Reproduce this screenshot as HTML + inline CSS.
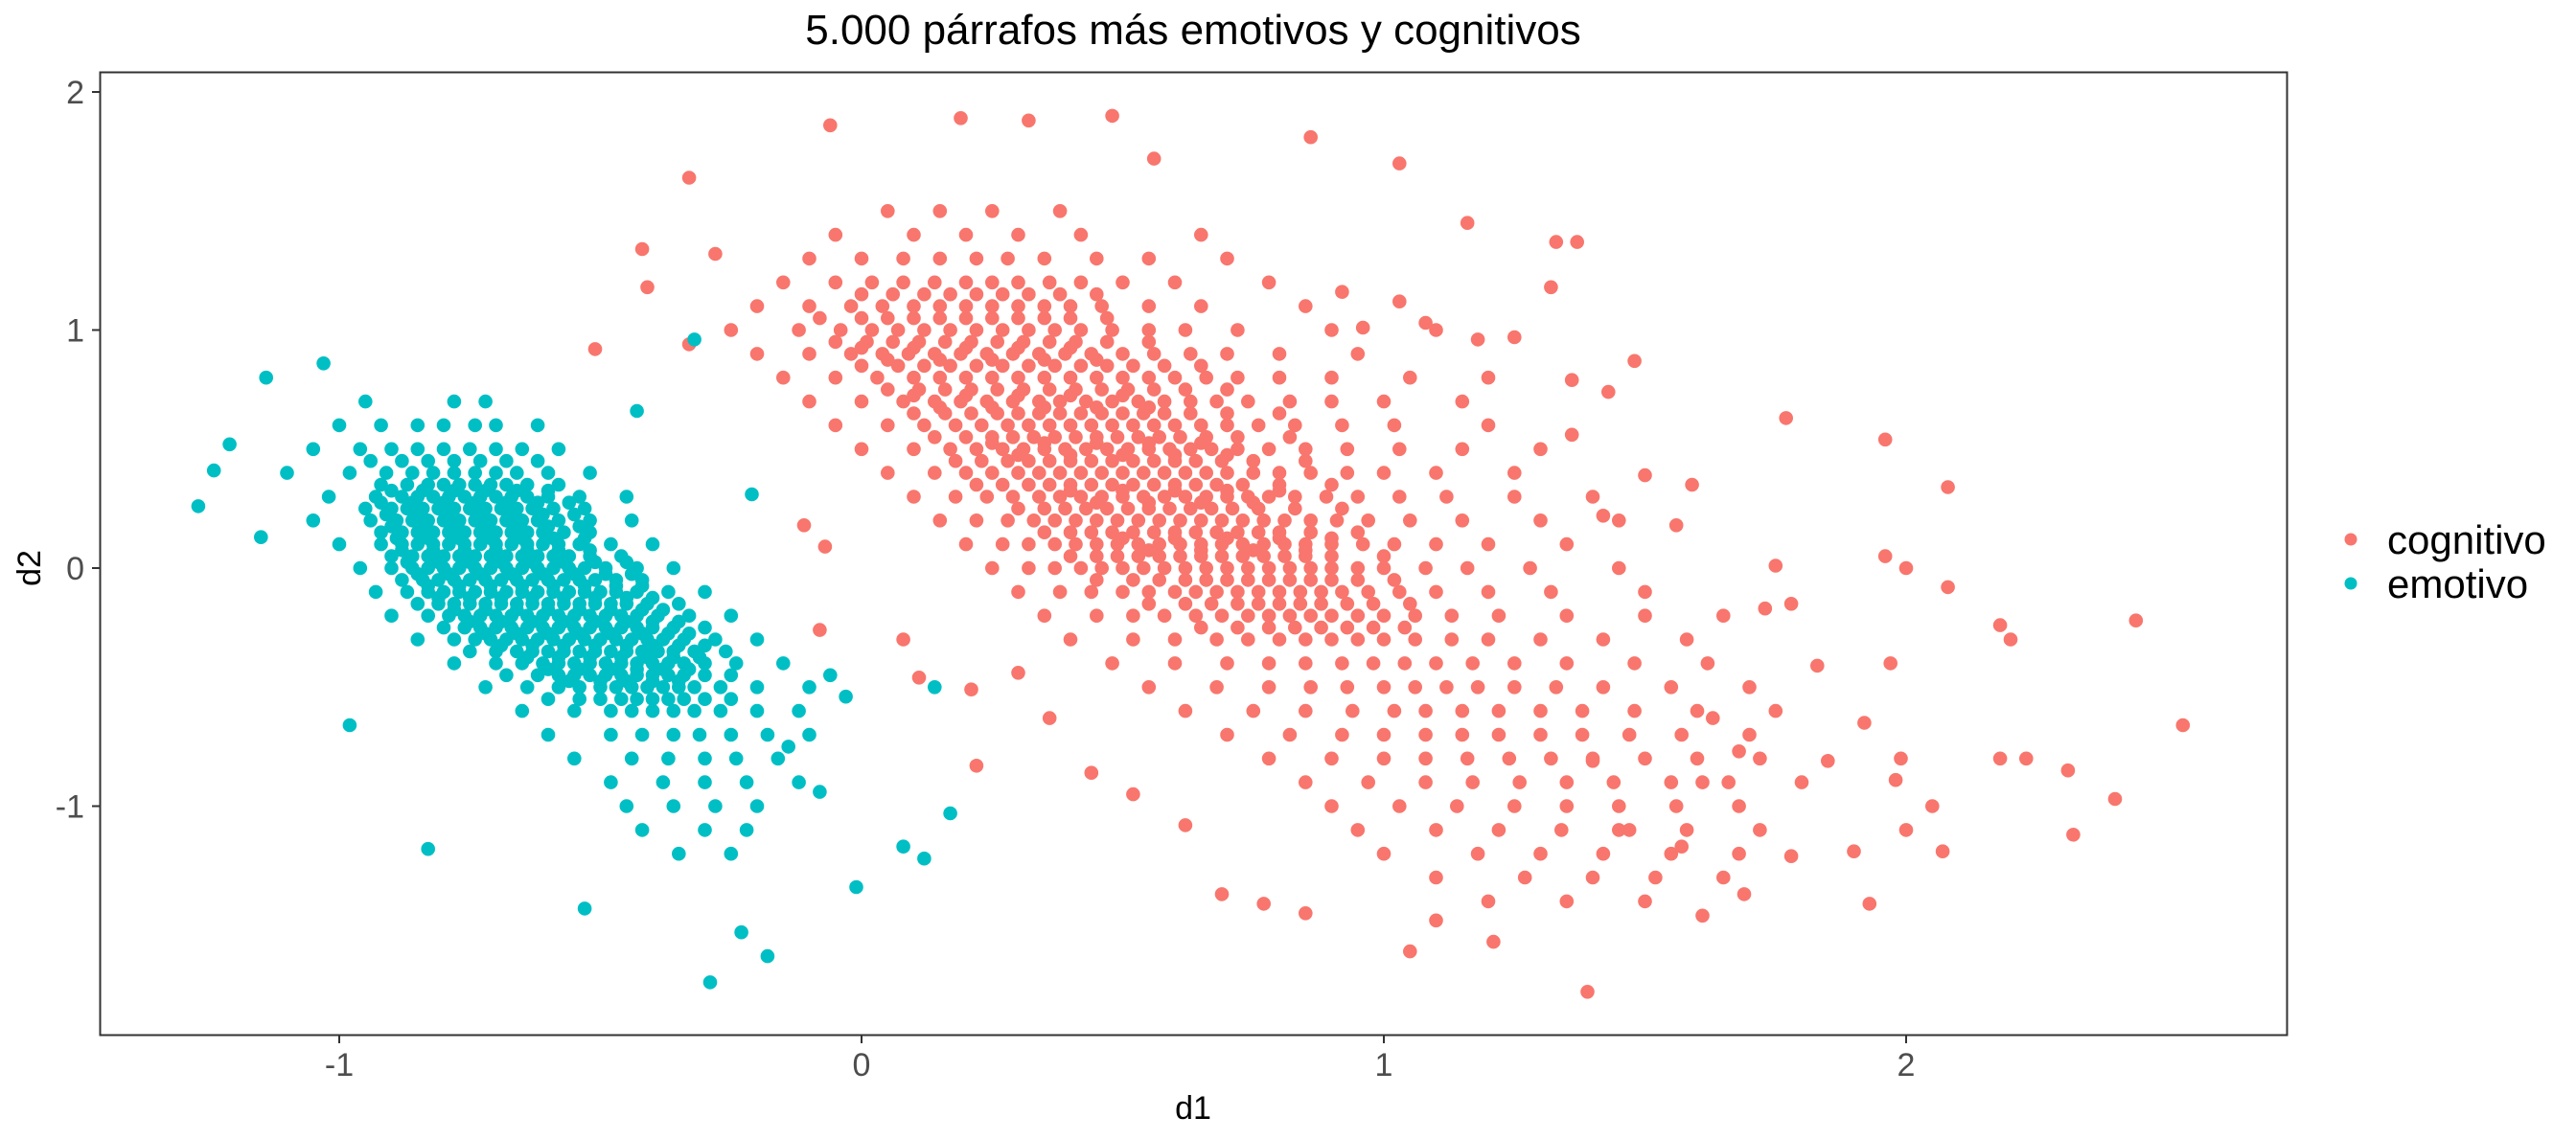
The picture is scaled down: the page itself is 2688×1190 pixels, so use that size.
<!DOCTYPE html>
<html><head><meta charset="utf-8"><style>
html,body{margin:0;padding:0;background:#fff;}
svg{display:block;font-family:"Liberation Sans",Arial,sans-serif;}
</style></head><body>
<svg id="chart" width="2688" height="1190" viewBox="0 0 2688 1190" xmlns="http://www.w3.org/2000/svg">
<rect x="0" y="0" width="2688" height="1190" fill="#fff"/>
<text x="1245" y="46" font-size="44" text-anchor="middle" fill="#000">5.000 párrafos más emotivos y cognitivos</text>
<g id="points"></g>
<rect x="104.5" y="75.5" width="2282" height="1005" fill="none" stroke="#333" stroke-width="2"/>
<g id="axes"></g>
<text x="1245" y="1168" font-size="34" text-anchor="middle" fill="#000">d1</text>
<text x="42" y="593" font-size="34" text-anchor="middle" fill="#000" transform="rotate(-90 42 593)">d2</text>
<g>
<circle cx="2453" cy="563" r="6.5" fill="#F8766D"/>
<text x="2491" y="578" font-size="42" fill="#000">cognitivo</text>
<circle cx="2453" cy="609" r="6.5" fill="#00BFC4"/>
<text x="2491" y="624" font-size="42" fill="#000">emotivo</text>
</g>
</svg>
<script>
const xTicks = [-1, 0, 1, 2];
const yTicks = [-1, 0, 1, 2];
const xTickLabels = ["-1", "0", "1", "2"];
const yTickLabels = ["-1", "0", "1", "2"];

const cogLevels = [1.5,1.4,1.3,1.2,1.15,1.1,1.05,1.0,0.95,0.9,0.85,0.8,0.75,0.7,0.65,0.6,0.55,0.5,0.45,0.4,0.35,0.3,0.25,0.2,0.15,0.1,0.05,0.0,-0.05,-0.1,-0.15,-0.2,-0.25,-0.3,-0.4,-0.5,-0.6,-0.7,-0.8,-0.9,-1.0,-1.1,-1.2,-1.3,-1.4,0.925,0.875,0.725,0.675,0.525,0.475,0.325,0.275,0.125,0.075];
const cogD1 = [
[0.05,0.15,0.25,0.38],
[-0.05,0.1,0.2,0.3,0.42,0.65],
[-0.1,0.0,0.08,0.15,0.22,0.28,0.35,0.45,0.55,0.7],
[-0.15,-0.05,0.02,0.08,0.14,0.2,0.25,0.3,0.36,0.42,0.5,0.6,0.78],
[0.0,0.06,0.12,0.17,0.22,0.27,0.32,0.38,0.45],
[-0.2,-0.1,-0.02,0.04,0.1,0.15,0.2,0.25,0.3,0.35,0.4,0.46,0.55,0.65,0.85],
[-0.08,0.0,0.05,0.1,0.15,0.2,0.25,0.3,0.35,0.4,0.47],
[-0.25,-0.12,-0.04,0.02,0.07,0.12,0.17,0.22,0.27,0.32,0.37,0.42,0.48,0.55,0.62,0.72,0.9,1.1],
[-0.05,0.01,0.06,0.11,0.16,0.21,0.26,0.31,0.36,0.41,0.47,0.55],
[-0.2,-0.1,-0.02,0.04,0.09,0.14,0.19,0.24,0.29,0.34,0.39,0.44,0.5,0.56,0.63,0.7,0.8,0.95],
[0.0,0.07,0.12,0.17,0.22,0.27,0.32,0.37,0.42,0.47,0.52,0.58,0.65],
[-0.15,-0.05,0.03,0.1,0.15,0.2,0.25,0.3,0.35,0.4,0.45,0.5,0.55,0.6,0.66,0.72,0.8,0.9,1.05,1.2],
[0.05,0.11,0.16,0.21,0.26,0.31,0.36,0.41,0.46,0.51,0.56,0.62,0.7],
[-0.1,0.0,0.08,0.14,0.19,0.24,0.29,0.34,0.38,0.43,0.48,0.53,0.58,0.63,0.68,0.74,0.82,0.9,1.0,1.15],
[0.1,0.16,0.21,0.26,0.3,0.34,0.38,0.42,0.46,0.5,0.54,0.58,0.63,0.7,0.8],
[-0.05,0.05,0.12,0.18,0.23,0.28,0.32,0.36,0.4,0.44,0.48,0.52,0.56,0.6,0.65,0.7,0.76,0.83,0.92,1.02,1.2],
[0.14,0.2,0.25,0.29,0.33,0.37,0.41,0.45,0.49,0.53,0.57,0.61,0.66,0.72,0.82],
[0.0,0.1,0.17,0.22,0.27,0.31,0.35,0.39,0.43,0.47,0.51,0.55,0.59,0.63,0.67,0.72,0.78,0.85,0.93,1.03,1.15,1.3],
[0.18,0.23,0.28,0.32,0.36,0.4,0.44,0.48,0.52,0.56,0.6,0.64,0.69,0.75,0.85],
[0.05,0.14,0.2,0.25,0.3,0.34,0.38,0.42,0.46,0.5,0.54,0.58,0.62,0.66,0.7,0.75,0.8,0.86,0.93,1.0,1.1,1.25],
[0.22,0.27,0.32,0.36,0.4,0.44,0.48,0.52,0.56,0.6,0.64,0.68,0.73,0.8,0.9],
[0.1,0.18,0.24,0.29,0.34,0.38,0.42,0.46,0.5,0.54,0.58,0.62,0.66,0.7,0.74,0.78,0.83,0.89,0.95,1.03,1.12,1.25,1.4],
[0.3,0.35,0.39,0.43,0.47,0.51,0.55,0.59,0.63,0.67,0.71,0.76,0.83,0.92],
[0.15,0.22,0.28,0.33,0.37,0.41,0.45,0.49,0.53,0.57,0.61,0.65,0.69,0.73,0.77,0.81,0.86,0.91,0.97,1.05,1.15,1.3,1.45],
[0.35,0.4,0.44,0.48,0.52,0.56,0.6,0.64,0.68,0.72,0.76,0.8,0.86,0.95],
[0.2,0.27,0.32,0.37,0.41,0.45,0.49,0.53,0.57,0.61,0.65,0.69,0.73,0.77,0.81,0.85,0.9,0.96,1.02,1.1,1.2,1.35],
[0.4,0.45,0.49,0.53,0.57,0.61,0.65,0.69,0.73,0.77,0.81,0.85,0.9,1.0],
[0.25,0.32,0.37,0.42,0.46,0.5,0.54,0.58,0.62,0.66,0.7,0.74,0.78,0.82,0.86,0.9,0.95,1.0,1.08,1.16,1.28,1.45],
[0.45,0.52,0.57,0.62,0.66,0.7,0.74,0.78,0.82,0.86,0.9,0.95,1.02],
[0.3,0.38,0.44,0.5,0.55,0.6,0.64,0.68,0.72,0.76,0.8,0.84,0.88,0.92,0.97,1.03,1.1,1.2,1.32,1.5],
[0.55,0.62,0.67,0.72,0.76,0.8,0.84,0.88,0.93,0.98,1.05],
[0.35,0.45,0.52,0.58,0.64,0.69,0.74,0.78,0.82,0.86,0.9,0.95,1.0,1.06,1.13,1.22,1.35,1.5,1.65],
[0.65,0.72,0.78,0.83,0.88,0.93,0.98,1.04],
[0.4,0.52,0.6,0.68,0.74,0.8,0.85,0.9,0.95,1.0,1.06,1.13,1.2,1.3,1.42,1.58],
[0.48,0.6,0.7,0.78,0.85,0.92,0.98,1.04,1.1,1.17,1.25,1.35,1.48,1.62],
[0.55,0.68,0.78,0.86,0.93,1.0,1.06,1.12,1.18,1.25,1.33,1.42,1.55,1.7],
[0.62,0.75,0.85,0.94,1.02,1.08,1.15,1.22,1.3,1.38,1.48,1.6,1.75],
[0.7,0.82,0.92,1.0,1.08,1.15,1.22,1.3,1.38,1.47,1.57,1.7],
[0.78,0.9,1.0,1.08,1.16,1.24,1.32,1.4,1.5,1.6,1.72],
[0.85,0.97,1.08,1.17,1.26,1.35,1.44,1.55,1.66,1.8],
[0.9,1.03,1.14,1.25,1.35,1.45,1.56,1.68],
[0.95,1.1,1.22,1.34,1.45,1.58,1.72],
[1.0,1.18,1.3,1.42,1.55,1.68],
[1.1,1.27,1.4,1.52,1.65],
[1.2,1.35,1.5],
[0.0,0.1,0.2,0.3,0.4],
[0.05,0.15,0.25,0.35,0.45],
[0.1,0.2,0.3,0.4,0.5],
[0.15,0.25,0.35,0.45,0.55],
[0.25,0.35,0.45,0.55,0.65],
[0.3,0.4,0.5,0.6,0.7],
[0.4,0.5,0.6,0.7,0.8],
[0.45,0.55,0.65,0.75],
[0.5,0.6,0.7,0.8,0.9],
[0.55,0.65,0.75,0.85]
];
const cogOutX = [-0.06,0.19,0.32,0.48,0.56,0.86,1.03,-0.33,-0.42,-0.28,-0.41,-0.51,-0.33,1.16,1.33,1.37,1.32,1.77,1.96,2.08,1.75,1.78,1.96,2.00,2.08,2.18,2.20,2.44,2.53,2.40,2.31,2.32,2.18,2.23,1.99,1.92,1.93,1.90,1.85,1.98,1.97,1.83,1.73,2.05,2.07,2.00,1.78,1.69,1.61,1.39,1.57,1.47,1.21,1.10,1.05,0.85,0.77,0.69,0.62,1.50,1.48,1.43,1.25,1.18,1.08,0.96,0.92,1.03,1.36,1.36,1.59,1.56,1.42,-0.11,-0.07,-0.08,0.08,0.21,0.30,0.11,0.36,0.44,0.52,0.22,1.63,1.68,1.61,1.40];
const cogOutY = [1.86,1.89,1.88,1.90,1.72,1.81,1.70,1.64,1.34,1.32,1.18,0.92,0.94,1.45,1.37,1.37,1.18,0.63,0.54,0.34,0.01,-0.15,0.05,0.00,-0.08,-0.24,-0.30,-0.22,-0.66,-0.97,-0.85,-1.12,-0.80,-0.80,-0.80,-0.65,-1.41,-1.19,-0.81,-0.89,-0.40,-0.41,-0.17,-1.00,-1.19,-1.10,-1.21,-1.37,-1.46,-1.78,-1.17,-1.10,-1.57,-1.48,-1.61,-1.45,-1.41,-1.37,-1.08,0.39,0.87,0.74,0.97,0.96,1.03,1.01,1.16,1.12,0.79,0.56,0.35,0.18,0.22,0.18,0.09,-0.26,-0.30,-0.51,-0.44,-0.46,-0.63,-0.86,-0.95,-0.83,-0.63,-0.77,-0.90,-0.81];

const emoLevels = [0.7,0.6,0.5,0.45,0.4,0.35,0.3,0.25,0.2,0.15,0.1,0.05,0.0,-0.05,-0.1,-0.15,-0.2,-0.25,-0.3,-0.35,-0.4,-0.45,-0.5,-0.55,-0.6,-0.7,-0.8,-0.9,-1.0,-1.1,-1.2,0.325,0.275,0.225,0.175,0.125,0.075,0.025,-0.025,-0.075,-0.125,-0.175,-0.225,-0.275,-0.325,-0.375,-0.425,-0.475];
const emoD1 = [
[-0.95,-0.78,-0.72],
[-1.0,-0.92,-0.85,-0.8,-0.74,-0.7,-0.62],
[-1.05,-0.96,-0.9,-0.85,-0.8,-0.75,-0.7,-0.65,-0.58],
[-0.94,-0.88,-0.83,-0.78,-0.73,-0.68,-0.62],
[-1.1,-0.98,-0.91,-0.86,-0.82,-0.78,-0.74,-0.7,-0.66,-0.6,-0.52],
[-0.92,-0.87,-0.83,-0.8,-0.77,-0.74,-0.71,-0.68,-0.64,-0.58],
[-1.02,-0.93,-0.88,-0.85,-0.82,-0.79,-0.76,-0.73,-0.7,-0.67,-0.64,-0.6,-0.54,-0.45],
[-0.95,-0.9,-0.87,-0.84,-0.81,-0.78,-0.75,-0.72,-0.69,-0.66,-0.63,-0.59,-0.53],
[-1.05,-0.94,-0.89,-0.86,-0.83,-0.8,-0.77,-0.74,-0.71,-0.68,-0.65,-0.62,-0.58,-0.52,-0.44],
[-0.92,-0.88,-0.85,-0.82,-0.79,-0.76,-0.73,-0.7,-0.67,-0.64,-0.61,-0.57,-0.52],
[-1.0,-0.92,-0.88,-0.85,-0.82,-0.79,-0.76,-0.73,-0.7,-0.67,-0.64,-0.61,-0.58,-0.54,-0.48,-0.4],
[-0.9,-0.86,-0.83,-0.8,-0.77,-0.74,-0.71,-0.68,-0.65,-0.62,-0.59,-0.56,-0.52,-0.46],
[-0.96,-0.9,-0.86,-0.83,-0.8,-0.77,-0.74,-0.71,-0.68,-0.65,-0.62,-0.59,-0.56,-0.53,-0.49,-0.43,-0.36],
[-0.88,-0.84,-0.81,-0.78,-0.75,-0.72,-0.69,-0.66,-0.63,-0.6,-0.57,-0.54,-0.51,-0.47,-0.42],
[-0.93,-0.87,-0.83,-0.8,-0.77,-0.74,-0.71,-0.68,-0.65,-0.62,-0.59,-0.56,-0.53,-0.5,-0.47,-0.43,-0.37,-0.3],
[-0.85,-0.81,-0.78,-0.75,-0.72,-0.69,-0.66,-0.63,-0.6,-0.57,-0.54,-0.51,-0.48,-0.45,-0.41,-0.35],
[-0.9,-0.83,-0.79,-0.76,-0.73,-0.7,-0.67,-0.64,-0.61,-0.58,-0.55,-0.52,-0.49,-0.46,-0.43,-0.39,-0.33,-0.25],
[-0.8,-0.76,-0.73,-0.7,-0.67,-0.64,-0.61,-0.58,-0.55,-0.52,-0.49,-0.46,-0.43,-0.4,-0.36,-0.3],
[-0.85,-0.78,-0.74,-0.71,-0.68,-0.65,-0.62,-0.59,-0.56,-0.53,-0.5,-0.47,-0.44,-0.41,-0.38,-0.34,-0.28,-0.2],
[-0.75,-0.7,-0.66,-0.63,-0.6,-0.57,-0.54,-0.51,-0.48,-0.45,-0.42,-0.39,-0.36,-0.32,-0.26],
[-0.78,-0.7,-0.65,-0.61,-0.58,-0.55,-0.52,-0.49,-0.46,-0.43,-0.4,-0.37,-0.34,-0.3,-0.24,-0.15],
[-0.68,-0.62,-0.58,-0.55,-0.52,-0.49,-0.46,-0.43,-0.4,-0.37,-0.34,-0.3,-0.25],
[-0.72,-0.64,-0.58,-0.54,-0.5,-0.47,-0.44,-0.41,-0.38,-0.35,-0.32,-0.27,-0.2,-0.1],
[-0.6,-0.54,-0.5,-0.46,-0.43,-0.4,-0.37,-0.34,-0.3,-0.25],
[-0.65,-0.55,-0.48,-0.44,-0.4,-0.36,-0.32,-0.27,-0.2,-0.12],
[-0.6,-0.48,-0.42,-0.36,-0.31,-0.25,-0.18,-0.1],
[-0.55,-0.44,-0.37,-0.3,-0.24,-0.16],
[-0.48,-0.38,-0.3,-0.22,-0.12],
[-0.45,-0.36,-0.28,-0.2],
[-0.42,-0.3,-0.22],
[-0.35,-0.25],
[-0.9,-0.84,-0.78,-0.72,-0.66,-0.6],
[-0.92,-0.86,-0.8,-0.74,-0.68,-0.62,-0.56],
[-0.91,-0.85,-0.79,-0.73,-0.67,-0.61,-0.55],
[-0.9,-0.84,-0.78,-0.72,-0.66,-0.6,-0.54],
[-0.89,-0.83,-0.77,-0.71,-0.65,-0.59,-0.53],
[-0.88,-0.82,-0.76,-0.7,-0.64,-0.58,-0.52],
[-0.87,-0.81,-0.75,-0.69,-0.63,-0.57,-0.51,-0.45],
[-0.85,-0.79,-0.73,-0.67,-0.61,-0.55,-0.49,-0.44],
[-0.83,-0.77,-0.71,-0.65,-0.59,-0.53,-0.47,-0.42],
[-0.81,-0.75,-0.69,-0.63,-0.57,-0.51,-0.45,-0.4],
[-0.78,-0.72,-0.66,-0.6,-0.54,-0.48,-0.42,-0.38],
[-0.75,-0.69,-0.63,-0.57,-0.51,-0.45,-0.4,-0.35],
[-0.72,-0.66,-0.6,-0.54,-0.48,-0.42,-0.37,-0.33],
[-0.69,-0.63,-0.57,-0.51,-0.45,-0.4,-0.35,-0.3],
[-0.64,-0.58,-0.52,-0.46,-0.41,-0.36,-0.31],
[-0.6,-0.54,-0.48,-0.43,-0.38,-0.33],
[-0.56,-0.5,-0.45,-0.4,-0.35]
];
const emoOutX = [-1.27,-1.14,-1.03,-1.24,-1.21,-1.15,-0.98,-0.83,-0.53,-0.29,-0.18,-0.23,-0.01,0.08,0.12,0.17,0.14,-0.21,-0.32,-0.43,-0.14,-0.08,-0.03,-0.06];
const emoOutY = [0.26,0.80,0.86,0.41,0.52,0.13,-0.66,-1.18,-1.43,-1.74,-1.63,-1.53,-1.34,-1.17,-1.22,-1.03,-0.50,0.31,0.96,0.66,-0.75,-0.94,-0.54,-0.45];

const NS = "http://www.w3.org/2000/svg";
function xScale(v) { return 899 + 545 * v; }
function yScale(v) { return 593 - 248.5 * v; }

const pts = document.getElementById('points');
function dot(x, y, color, name) {
  const c = document.createElementNS(NS, 'circle');
  c.setAttribute('cx', xScale(x).toFixed(1));
  c.setAttribute('cy', yScale(y).toFixed(1));
  c.setAttribute('r', '7.3');
  c.setAttribute('fill', color);
  
  
  pts.appendChild(c);
}
cogLevels.forEach(function (lv, i) {
  cogD1[i].forEach(function (x) { dot(x, lv, '#F8766D', 'point-cognitivo'); });
});
cogOutX.forEach(function (x, i) { dot(x, cogOutY[i], '#F8766D', 'point-cognitivo'); });
emoLevels.forEach(function (lv, i) {
  emoD1[i].forEach(function (x) { dot(x, lv, '#00BFC4', 'point-emotivo'); });
});
emoOutX.forEach(function (x, i) { dot(x, emoOutY[i], '#00BFC4', 'point-emotivo'); });

const axes = document.getElementById('axes');
xTicks.forEach(function (t, i) {
  const px = xScale(t);
  const l = document.createElementNS(NS, 'line');
  l.setAttribute('x1', px); l.setAttribute('x2', px);
  l.setAttribute('y1', 1081); l.setAttribute('y2', 1089);
  l.setAttribute('stroke', '#333'); l.setAttribute('stroke-width', '2');
  
  
  axes.appendChild(l);
  const tx = document.createElementNS(NS, 'text');
  tx.setAttribute('x', px); tx.setAttribute('y', 1123);
  tx.setAttribute('font-size', '34'); tx.setAttribute('fill', '#4d4d4d');
  tx.setAttribute('text-anchor', 'middle');
  
  
  tx.textContent = xTickLabels[i];
  axes.appendChild(tx);
});
yTicks.forEach(function (t, i) {
  const py = yScale(t);
  const l = document.createElementNS(NS, 'line');
  l.setAttribute('x1', 96); l.setAttribute('x2', 104);
  l.setAttribute('y1', py); l.setAttribute('y2', py);
  l.setAttribute('stroke', '#333'); l.setAttribute('stroke-width', '2');
  
  
  axes.appendChild(l);
  const tx = document.createElementNS(NS, 'text');
  tx.setAttribute('x', 88); tx.setAttribute('y', py + 12);
  tx.setAttribute('font-size', '34'); tx.setAttribute('fill', '#4d4d4d');
  tx.setAttribute('text-anchor', 'end');
  
  
  tx.textContent = yTickLabels[i];
  axes.appendChild(tx);
});
</script>
</body></html>
